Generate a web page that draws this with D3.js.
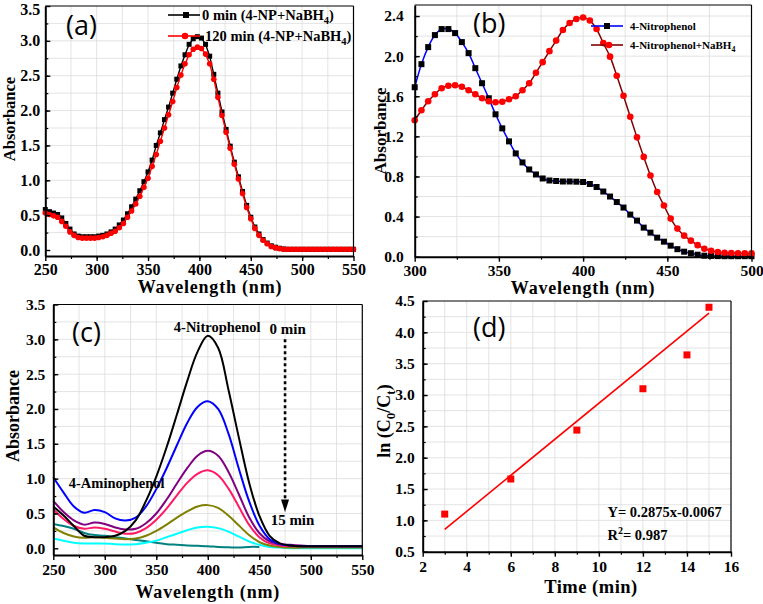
<!DOCTYPE html>
<html><head><meta charset="utf-8">
<script src="https://cdn.jsdelivr.net/npm/d3@7"></script>
<style>
body{margin:0;background:#fff}
svg text{font-family:"Liberation Serif","Times New Roman",serif;font-weight:bold;fill:#000}
</style>
</head><body>
<svg id="fig" width="763" height="604"></svg>
<script>
// ---------- Panel (a) data ----------
const wlA = [250,254,258,262,266,270,274,278,282,286,290,294,298,302,306,310,314,318,322,326,330,334,338,342,346,350,354,358,362,366,370,374,378,382,386,390,394,398,402,406,410,414,418,422,426,430,434,438,442,446,450,454,458,462,466,470,474,478,482,486,490,494,498,502,506,510,514,518,522,526,530,534,538,542,546,550];
const absA0 = [0.58,0.55,0.53,0.51,0.46,0.38,0.30,0.23,0.20,0.19,0.19,0.19,0.19,0.20,0.21,0.23,0.26,0.30,0.36,0.43,0.52,0.62,0.73,0.85,0.98,1.12,1.29,1.50,1.68,1.87,2.05,2.25,2.45,2.64,2.80,2.95,3.03,3.06,3.04,2.95,2.78,2.52,2.25,1.98,1.73,1.49,1.26,1.05,0.84,0.64,0.47,0.33,0.23,0.15,0.10,0.06,0.04,0.025,0.015,0.01,0.01,0.01,0.01,0.01,0.01,0.01,0.01,0.01,0.01,0.01,0.01,0.01,0.01,0.01,0.01,0.01];
const absA120 = [0.53,0.51,0.49,0.47,0.41,0.34,0.26,0.21,0.18,0.17,0.17,0.17,0.17,0.18,0.19,0.21,0.24,0.27,0.32,0.38,0.47,0.56,0.66,0.77,0.90,1.03,1.20,1.37,1.56,1.75,1.94,2.13,2.33,2.51,2.67,2.80,2.88,2.91,2.89,2.81,2.67,2.45,2.19,1.93,1.69,1.46,1.23,1.02,0.81,0.61,0.45,0.31,0.21,0.14,0.09,0.05,0.03,0.02,0.01,0.01,0.01,0.01,0.01,0.01,0.01,0.01,0.01,0.01,0.01,0.01,0.01,0.01,0.01,0.01,0.01,0.01];
const legendA = ["0 min (4-NP+NaBH", "120 min (4-NP+NaBH"];

// ---------- Panel (b) data ----------
const wlB = [300,304,308,312,316,320,324,328,332,336,340,344,348,352,356,360,364,368,372,376,380,384,388,392,396,400,404,408,412,416,420,424,428,432,436,440,444,448,452,456,460,464,468,472,476,480,484,488,492,496,500];
const absNP = [1.69,1.92,2.09,2.21,2.27,2.27,2.23,2.14,2.03,1.88,1.73,1.58,1.42,1.28,1.15,1.03,0.94,0.87,0.82,0.78,0.76,0.755,0.75,0.75,0.748,0.745,0.725,0.695,0.65,0.60,0.545,0.49,0.42,0.36,0.29,0.24,0.19,0.15,0.11,0.075,0.05,0.035,0.02,0.01,0.008,0.006,0.005,0.005,0.005,0.005,0.005];
const absNPB = [1.36,1.46,1.55,1.62,1.68,1.705,1.71,1.695,1.66,1.62,1.58,1.55,1.54,1.545,1.57,1.60,1.66,1.73,1.835,1.94,2.05,2.155,2.26,2.33,2.37,2.385,2.355,2.27,2.13,1.995,1.805,1.605,1.395,1.19,0.995,0.81,0.645,0.51,0.38,0.28,0.21,0.16,0.115,0.08,0.06,0.047,0.04,0.037,0.034,0.033,0.033];
const legendB = ["4-Nitrophenol", "4-Nitrophenol+NaBH"];

// ---------- Panel (c) data ----------
const wlC = [250,260,270,280,290,300,310,320,330,340,350,360,370,380,390,400,410,420,430,440,450,460,470,480,490,500,510,520,530,540,550];
const absC0  = [0.60,0.47,0.32,0.18,0.16,0.16,0.18,0.25,0.40,0.68,1.03,1.45,1.92,2.40,2.82,3.05,2.88,2.28,1.60,0.95,0.47,0.18,0.07,0.04,0.03,0.03,0.03,0.03,0.03,0.03,0.03];
const absC1  = [1.02,0.80,0.60,0.51,0.55,0.52,0.43,0.40,0.44,0.60,0.85,1.15,1.48,1.80,2.03,2.11,2.00,1.65,1.15,0.68,0.33,0.13,0.06,0.04,0.03,0.03,0.03,0.03,0.03,0.03,0.03];
const absC2  = [0.68,0.52,0.40,0.34,0.37,0.35,0.30,0.27,0.28,0.36,0.50,0.70,0.93,1.15,1.33,1.40,1.33,1.10,0.78,0.45,0.22,0.10,0.06,0.05,0.04,0.03,0.03,0.03,0.03,0.03,0.03];
const absC3  = [0.56,0.42,0.32,0.28,0.30,0.28,0.24,0.21,0.22,0.29,0.41,0.57,0.76,0.94,1.07,1.12,1.05,0.86,0.60,0.34,0.16,0.07,0.04,0.03,0.03,0.03,0.03,0.03,0.03,0.03,0.03];
const absC4  = [0.30,0.22,0.17,0.15,0.16,0.15,0.14,0.13,0.14,0.18,0.25,0.34,0.44,0.53,0.60,0.62,0.58,0.47,0.33,0.19,0.09,0.04,0.02,0.01,0.01,0.01,0.01,0.01,0.01,0.01,0.01];
const absC5  = [0.14,0.11,0.08,0.07,0.07,0.07,0.06,0.055,0.06,0.08,0.11,0.16,0.21,0.26,0.30,0.31,0.29,0.24,0.17,0.10,0.05,0.02,0.01,0.0,0.0,0.0,0.0,0.0,0.0,0.0,0.0];
const absC6  = [0.35,0.32,0.28,0.22,0.19,0.18,0.16,0.14,0.12,0.10,0.08,0.06,0.05,0.04,0.035,0.03,0.02,0.015,0.01,0.02,0.02];
const colorsC = ["#000000","#0000ff","#800080","#ff1a66","#808000","#00ffff","#008080"];

// ---------- Panel (d) data ----------
const timeD = [3,6,9,12,14,15];
const lnD = [1.10,1.66,2.44,3.10,3.64,4.40];
const fitSlope = 0.2875, fitIntercept = -0.0067;
const fitRange = [3,15];

// ---------- helpers ----------
const SERIF = "'Liberation Serif','Times New Roman',serif";
const svg = d3.select("#fig");

function panel(o){
  const g = svg.append("g");
  const x = d3.scaleLinear().domain(o.xd).range([o.l, o.r]);
  const y = d3.scaleLinear().domain(o.yd).range([o.b, o.t]);
  const grid = g.append("g");
  o.xminor.forEach(v=>grid.append("line").attr("x1",x(v)).attr("x2",x(v)).attr("y1",o.t).attr("y2",o.b)
     .attr("stroke","#dcdcdc").attr("stroke-width",0.8));
  o.yminor.forEach(v=>grid.append("line").attr("y1",y(v)).attr("y2",y(v)).attr("x1",o.l).attr("x2",o.r)
     .attr("stroke","#dcdcdc").attr("stroke-width",0.8));
  const data = g.append("g");
  const ax = g.append("g");
  ax.append("line").attr("x1",o.l).attr("x2",o.r).attr("y1",o.t).attr("y2",o.t).attr("stroke","#000").attr("stroke-width",1.2);
  ax.append("line").attr("x1",o.r).attr("x2",o.r).attr("y1",o.t).attr("y2",o.b).attr("stroke","#000").attr("stroke-width",1.2);
  const xm = ax.append("g").attr("transform",`translate(0,${o.b})`)
    .call(d3.axisBottom(x).tickValues(o.xminor).tickSize(3).tickSizeOuter(0).tickFormat(""));
  const ym = ax.append("g").attr("transform",`translate(${o.l},0)`)
    .call(d3.axisLeft(y).tickValues(o.yminor).tickSize(-3).tickSizeOuter(0).tickFormat(""));
  [xm,ym].forEach(a=>{a.select(".domain").remove(); a.selectAll("line").attr("stroke-width",1.2);});
  const xa = ax.append("g").attr("transform",`translate(0,${o.b})`)
    .call(d3.axisBottom(x).tickValues(o.xticks).tickSize(5).tickSizeOuter(0).tickPadding(o.xpad||4).tickFormat(o.xfmt||d3.format("d")));
  const ya = ax.append("g").attr("transform",`translate(${o.l},0)`)
    .call(d3.axisLeft(y).tickValues(o.yticks).tickSize(-5).tickSizeOuter(0).tickPadding(o.ypad||5).tickFormat(o.yfmt||d3.format(".1f")));
  [xa,ya].forEach(a=>{
    a.attr("font-family",SERIF).attr("font-size",o.tfs||16);
    a.select(".domain").attr("stroke-width",2);
    a.selectAll("line").attr("stroke-width",1.4);
    a.selectAll("text").style("font-family",SERIF).style("font-weight","bold").style("font-size",(o.tfs||16)+"px").attr("fill","#000");
  });
  if (o.topLabelShift) ya.selectAll(".tick").filter(d=>d===o.yd[1]).select("text").attr("y",o.topLabelShift);
  g.append("text").attr("x",o.xtx||(o.l+o.r)/2).attr("y",o.xty).attr("text-anchor","middle")
    .attr("font-size",o.xtfs||18).attr("letter-spacing",o.xls||0).text(o.xt);
  const yt = g.append("text").attr("transform",`translate(${o.ytx},${o.yty}) rotate(-90)`)
    .attr("text-anchor","middle").attr("font-size",o.ytfs||18);
  if (typeof o.yt === "string") yt.text(o.yt); else o.yt(yt);
  g.append("text").attr("x",o.plx).attr("y",o.ply).text(o.pl)
    .style("font-family","'Open Sans','Noto Sans',sans-serif").style("font-weight","normal").attr("font-size",27);
  return {g:data, x, y, top:g};
}

function sub(t, main, s, fs){
  t.append("tspan").text(main);
  t.append("tspan").text(s).attr("dy",fs*0.3).attr("font-size",fs*0.72);
}

// ---------- Panel (a) ----------
{
  const p = panel({l:45.3,r:353.5,t:6,b:256,xd:[250,550],yd:[-0.086,3.5],
    xticks:[250,300,350,400,450,500,550], xminor:d3.range(275,550,25),
    yticks:[0,0.5,1,1.5,2,2.5,3,3.5], yminor:[0.25,0.5,0.75,1,1.25,1.5,1.75,2,2.25,2.5,2.75,3,3.25],
    tfs:16, xpad:3, topLabelShift:3, xty:293, xt:"Wavelength (nm)", xtx:210, xtfs:18, xls:0.8, ytx:14.5, yty:119, yt:"Absorbance", ytfs:16.5,
    pl:"(a)", plx:66, ply:35});
  const series = [{v:absA0,c:"#000",m:"sq",lc:"#000"},{v:absA120,c:"#f00",m:"ci",lc:"#f00"}];
  series.forEach(s=>{
    const pts = wlA.map((w,i)=>[w,s.v[i]]);
    p.g.append("path").datum(pts).attr("fill","none").attr("stroke",s.lc).attr("stroke-width",1.4)
      .attr("d",d3.line().x(d=>p.x(d[0])).y(d=>p.y(d[1])));
    if (s.m==="sq") p.g.selectAll(null).data(pts).join("rect").attr("x",d=>p.x(d[0])-2.5).attr("y",d=>p.y(d[1])-2.5)
      .attr("width",5).attr("height",5).attr("fill",s.c);
    else p.g.selectAll(null).data(pts).join("circle").attr("cx",d=>p.x(d[0])).attr("cy",d=>p.y(d[1])).attr("r",2.8).attr("fill",s.c);
  });
  const lg = p.top.append("g");
  [[0,"#000","sq",15],[1,"#f00","ci",36]].forEach(([i,c,m,yy])=>{
    lg.append("line").attr("x1",168).attr("x2",200).attr("y1",yy).attr("y2",yy).attr("stroke",c).attr("stroke-width",1.6);
    if (m==="sq") lg.append("rect").attr("x",183).attr("y",yy-3).attr("width",6).attr("height",6).attr("fill",c);
    else lg.append("circle").attr("cx",185).attr("cy",yy).attr("r",3.3).attr("fill",c);
    const t = lg.append("text").attr("x",i===0?202:205).attr("y",yy+5).attr("font-size",14.5);
    sub(t, legendA[i], "4", 14.5);
    t.append("tspan").text(")").attr("dy",-14.5*0.3);
  });
}

// ---------- Panel (b) ----------
{
  const p = panel({l:414.7,r:751.5,t:5,b:256.7,xd:[300,500],yd:[0,2.51],
    xticks:[300,350,400,450,500], xminor:d3.range(325,500,25),
    yticks:[0,0.4,0.8,1.2,1.6,2.0,2.4], yminor:[0.2,0.4,0.6,0.8,1.0,1.2,1.4,1.6,1.8,2.0,2.2,2.4],
    tfs:15.5, ypad:11, xpad:3, xty:294, xt:"Wavelength (nm)", xtfs:18, xls:0.8, ytx:386, yty:131, yt:"Absorbance", ytfs:17,
    pl:"(b)", plx:473, ply:33});
  const series = [{v:absNP,c:"#000",m:"sq",lc:"#0000ff"},{v:absNPB,c:"#ff0000",m:"ci",lc:"#800000"}];
  series.forEach(s=>{
    const pts = wlB.map((w,i)=>[w,s.v[i]]);
    p.g.append("path").datum(pts).attr("fill","none").attr("stroke",s.lc).attr("stroke-width",1.5)
      .attr("d",d3.line().curve(d3.curveCatmullRom).x(d=>p.x(d[0])).y(d=>p.y(d[1])));
    if (s.m==="sq") p.g.selectAll(null).data(pts).join("rect").attr("x",d=>p.x(d[0])-3).attr("y",d=>p.y(d[1])-3)
      .attr("width",6).attr("height",6).attr("fill",s.c);
    else p.g.selectAll(null).data(pts).join("circle").attr("cx",d=>p.x(d[0])).attr("cy",d=>p.y(d[1])).attr("r",3.3).attr("fill",s.c);
  });
  const lg = p.top.append("g");
  [[0,"#0000ff","#000","sq",26],[1,"#800000","#f00","ci",45]].forEach(([i,lc,c,m,yy])=>{
    lg.append("line").attr("x1",591).attr("x2",623).attr("y1",yy).attr("y2",yy).attr("stroke",lc).attr("stroke-width",1.6);
    if (m==="sq") lg.append("rect").attr("x",604).attr("y",yy-3).attr("width",6).attr("height",6).attr("fill",c);
    else lg.append("circle").attr("cx",609).attr("cy",yy).attr("r",3.3).attr("fill",c);
    const t = lg.append("text").attr("x",630).attr("y",yy+4).attr("font-size",11);
    if (i===0) t.text(legendB[0]); else sub(t, legendB[1], "4", 11);
  });
}

// ---------- Panel (c) ----------
{
  const p = panel({l:53.3,r:362.3,t:304.5,b:555,xd:[250,550],yd:[-0.096,3.5],
    xticks:[250,300,350,400,450,500,550], xminor:d3.range(275,550,25),
    yticks:[0,0.5,1,1.5,2,2.5,3,3.5], yminor:[0.25,0.5,0.75,1,1.25,1.5,1.75,2,2.25,2.5,2.75,3,3.25],
    tfs:15.5, ypad:8, xpad:4, xty:598, xt:"Wavelength (nm)", xtfs:18, xls:0.8, ytx:19, yty:416, yt:"Absorbance", ytfs:18,
    pl:"(c)", plx:72, ply:342});
  const allC = [absC0,absC1,absC2,absC3,absC4,absC5,absC6];
  const line = d3.line().curve(d3.curveCatmullRom).x(d=>p.x(d[0])).y(d=>p.y(d[1]));
  [6,5,4,3,2,1,0].forEach(k=>{
    const pts = allC[k].map((v,i)=>[wlC[i],v]);
    p.g.append("path").datum(pts).attr("fill","none").attr("stroke",colorsC[k]).attr("stroke-width",2)
      .attr("d",line);
  });
  const a = p.top.append("g");
  a.append("text").attr("x",p.x(367)).attr("y",p.y(3.1)).attr("font-size",14.5).text("4-Nitrophenol");
  a.append("text").attr("x",p.x(460)).attr("y",p.y(3.08)).attr("font-size",15).text("0 min");
  a.append("text").attr("x",p.x(461)).attr("y",p.y(0.34)).attr("font-size",15).text("15 min");
  a.append("text").attr("x",p.x(265)).attr("y",p.y(0.87)).attr("font-size",14.5).text("4-Aminophenol");
  const ax = p.x(475);
  a.append("line").attr("x1",ax).attr("x2",ax).attr("y1",p.y(3.0)).attr("y2",p.y(0.68))
    .attr("stroke","#000").attr("stroke-width",2.6).attr("stroke-dasharray","3,3");
  a.append("path").attr("d",`M${ax-4},${p.y(0.7)} L${ax+4},${p.y(0.7)} L${ax},${p.y(0.52)} Z`).attr("fill","#000");
}

// ---------- Panel (d) ----------
{
  const p = panel({l:422.7,r:731,t:301,b:551.7,xd:[2,16],yd:[0.5,4.5],
    xticks:[2,4,6,8,10,12,14,16], xminor:d3.range(3,16,1),
    yticks:[0.5,1,1.5,2,2.5,3,3.5,4,4.5], yminor:[0.75,1,1.25,1.5,1.75,2,2.25,2.5,2.75,3,3.25,3.5,3.75,4,4.25],
    tfs:15.5, ypad:8, xpad:4, xfmt:d3.format("d"), xty:593, xt:"Time (min)", xtx:591, xtfs:18.5, xls:0.5, ytx:390, yty:421, ytfs:18,
    yt: t=>{ t.append("tspan").text("ln (C"); t.append("tspan").text("0").attr("dy",5).attr("font-size",13);
             t.append("tspan").text("/C").attr("dy",-5); t.append("tspan").text("t").attr("dy",5).attr("font-size",13);
             t.append("tspan").text(")").attr("dy",-5); },
    pl:"(d)", plx:473, ply:337});
  const fit = fitRange.map(t=>[t, fitSlope*t+fitIntercept]);
  p.g.append("path").datum(fit).attr("stroke","#f00").attr("stroke-width",1.6).attr("fill","none")
    .attr("d",d3.line().x(d=>p.x(d[0])).y(d=>p.y(d[1])));
  p.g.selectAll(null).data(timeD.map((t,i)=>[t,lnD[i]])).join("rect")
    .attr("x",d=>p.x(d[0])-3.5).attr("y",d=>p.y(d[1])-3.5).attr("width",7).attr("height",7).attr("fill","#f00");
  const a = p.top.append("g");
  a.append("text").attr("x",607.5).attr("y",517).attr("font-size",14.5).text("Y= 0.2875x-0.0067");
  const r = a.append("text").attr("x",607.5).attr("y",539.5).attr("font-size",14.5);
  r.append("tspan").text("R"); r.append("tspan").text("2").attr("dy",-6).attr("font-size",10);
  r.append("tspan").text("= 0.987").attr("dy",6);
}
</script>
</body></html>
